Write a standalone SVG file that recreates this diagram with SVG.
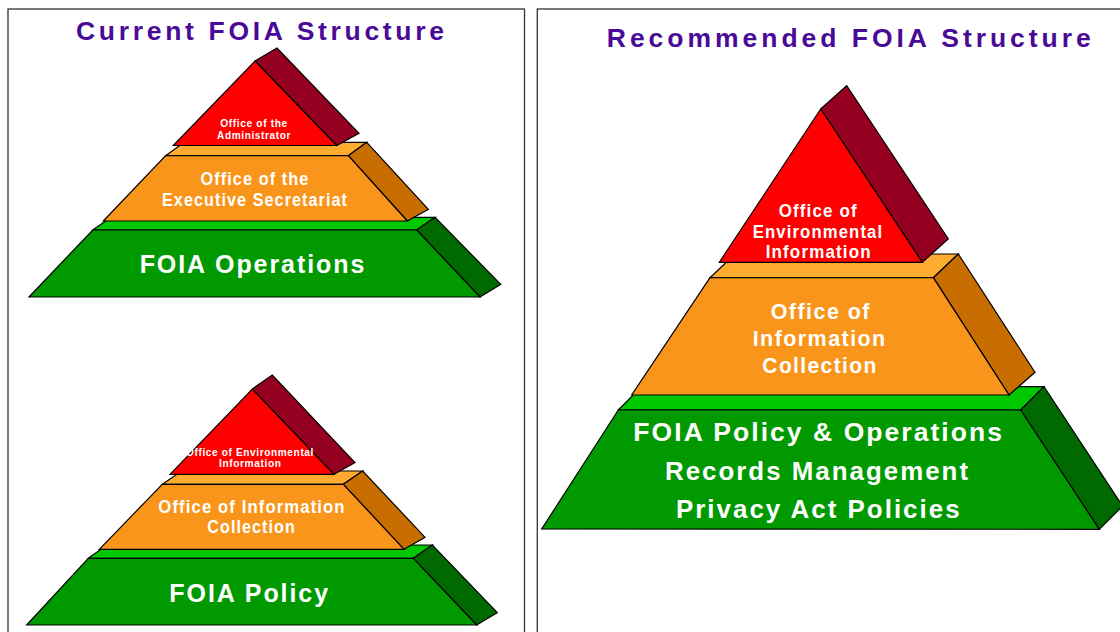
<svg xmlns="http://www.w3.org/2000/svg" width="1120" height="632" viewBox="0 0 1120 632">
<style>
.panel{fill:#fff;stroke:#333;stroke-width:1.3}
.title{font-family:"Liberation Sans",Arial,sans-serif;font-weight:bold;font-size:26.5px;fill:#4A0A98;letter-spacing:3px}
.s{stroke:#000;stroke-width:1.2;stroke-linejoin:miter}
.rf{fill:#FF0000}.rs{fill:#960020}
.of{fill:#F9951A}.ot{fill:#FFAB30}.os{fill:#C86E00}
.gf{fill:#009A00}.gt{fill:#00C800}.gs{fill:#006A00}
.t{font-family:"Liberation Sans",Arial,sans-serif;font-weight:bold;fill:#fff;text-anchor:middle}
.t9{font-size:10px;letter-spacing:0.6px}
.t17{font-size:18px;letter-spacing:1.2px}
.t21{font-size:22.5px;letter-spacing:1.5px}
.t25{font-size:26px;letter-spacing:2px}
</style>
<rect class="panel" x="8" y="9" width="516.5" height="640"/>
<rect class="panel" x="537.3" y="9" width="600" height="640"/>
<text class="title" x="261.5" y="39.6" text-anchor="middle" textLength="371" lengthAdjust="spacing">Current FOIA Structure</text>
<text class="title" x="850.3" y="46.7" text-anchor="middle" textLength="487" lengthAdjust="spacing">Recommended FOIA Structure</text>

<g id="current-foia-operations">
<polygon class="s gt" points="92.7,230 111,217.3 435,217.3 416.7,230"/>
<polygon class="s gs" points="416.7,230 435,217.3 500.7,284.3 480,297"/>
<polygon class="s gf" points="29,297 480,297 416.7,230 92.7,230"/>
<text class="t t25" x="253" y="273" textLength="226.7" lengthAdjust="spacingAndGlyphs">FOIA Operations</text>
</g>
<g id="current-exec-secretariat">
<polygon class="s ot" points="165.7,155.7 184,142.3 366.7,142.3 348.3,155.7"/>
<polygon class="s os" points="348.3,155.7 366.7,142.3 428.3,209.3 407.3,221"/>
<polygon class="s of" points="103.3,221 407.3,221 348.3,155.7 165.7,155.7"/>
<text class="t t17" x="255" y="185" textLength="109" lengthAdjust="spacingAndGlyphs">Office of the</text>
<text class="t t17" x="255" y="206" textLength="186" lengthAdjust="spacingAndGlyphs">Executive Secretariat</text>
</g>
<g id="current-administrator">
<polygon class="s rs" points="255,61 277,48 359,133.3 336.7,145.5"/>
<polygon class="s rf" points="255,61 336.7,145.5 173.3,145.5"/>
<text class="t t9" x="254" y="126.5" textLength="67.7" lengthAdjust="spacingAndGlyphs">Office of the</text>
<text class="t t9" x="254" y="138.5" textLength="74" lengthAdjust="spacingAndGlyphs">Administrator</text>
</g>

<g id="current-foia-policy">
<polygon class="s gt" points="88.3,558.3 107,545 432.3,545 413.3,558.3"/>
<polygon class="s gs" points="413.3,558.3 432.3,545 497.3,612.7 476.7,625"/>
<polygon class="s gf" points="26.7,625 476.7,625 413.3,558.3 88.3,558.3"/>
<text class="t t25" x="249.7" y="602.3" textLength="160.7" lengthAdjust="spacingAndGlyphs">FOIA Policy</text>
</g>
<g id="current-info-collection">
<polygon class="s ot" points="162.3,484.3 181.7,471 362.7,471 343.3,484.3"/>
<polygon class="s os" points="343.3,484.3 362.7,471 425,537.3 404,549.3"/>
<polygon class="s of" points="99.3,549.3 404,549.3 343.3,484.3 162.3,484.3"/>
<text class="t t17" x="252" y="512.7" textLength="187.3" lengthAdjust="spacingAndGlyphs">Office of Information</text>
<text class="t t17" x="251.6" y="533.3" textLength="88.7" lengthAdjust="spacingAndGlyphs">Collection</text>
</g>
<g id="current-env-info">
<polygon class="s rs" points="252.3,389 272.3,375 355,462.5 334,474.3"/>
<polygon class="s rf" points="252.3,389 334,474.3 170,474.3"/>
<text class="t t9" x="250" y="455.5" textLength="128" lengthAdjust="spacingAndGlyphs">Office of Environmental</text>
<text class="t t9" x="250.3" y="467" textLength="62.7" lengthAdjust="spacingAndGlyphs">Information</text>
</g>

<g id="rec-foia-policy-ops">
<polygon class="s gt" points="618.3,410 641.6,386.7 1044,386.7 1020.7,410"/>
<polygon class="s gs" points="1020.7,410 1044,386.7 1122.6,506 1099.3,529.3"/>
<polygon class="s gf" points="541.7,529 1099.3,529.3 1020.7,410 618.3,410"/>
<text class="t t25" x="818.7" y="441" textLength="370.7" lengthAdjust="spacingAndGlyphs">FOIA Policy &amp; Operations</text>
<text class="t t25" x="817.5" y="480" textLength="305" lengthAdjust="spacingAndGlyphs">Records Management</text>
<text class="t t25" x="818.8" y="517.7" textLength="285.7" lengthAdjust="spacingAndGlyphs">Privacy Act Policies</text>
</g>
<g id="rec-info-collection">
<polygon class="s ot" points="710,277.7 735,254 958.3,254 933.3,277.7"/>
<polygon class="s os" points="933.3,277.7 958.3,254 1035,372.3 1009,395"/>
<polygon class="s of" points="631.7,395 1009,395 933.3,277.7 710,277.7"/>
<text class="t t21" x="820.8" y="319" textLength="100.3" lengthAdjust="spacingAndGlyphs">Office of</text>
<text class="t t21" x="819.7" y="346" textLength="134" lengthAdjust="spacingAndGlyphs">Information</text>
<text class="t t21" x="820" y="373.3" textLength="115.3" lengthAdjust="spacingAndGlyphs">Collection</text>
</g>
<g id="rec-env-info">
<polygon class="s rs" points="820.7,109 846.7,85.7 948.3,239 922.3,262.3"/>
<polygon class="s rf" points="820.7,109 922.3,262.3 719.3,262.3"/>
<text class="t t17" x="818.2" y="217.3" textLength="79" lengthAdjust="spacingAndGlyphs">Office of</text>
<text class="t t17" x="818" y="238.3" textLength="130.6" lengthAdjust="spacingAndGlyphs">Environmental</text>
<text class="t t17" x="818.7" y="257.7" textLength="106" lengthAdjust="spacingAndGlyphs">Information</text>
</g>
</svg>
